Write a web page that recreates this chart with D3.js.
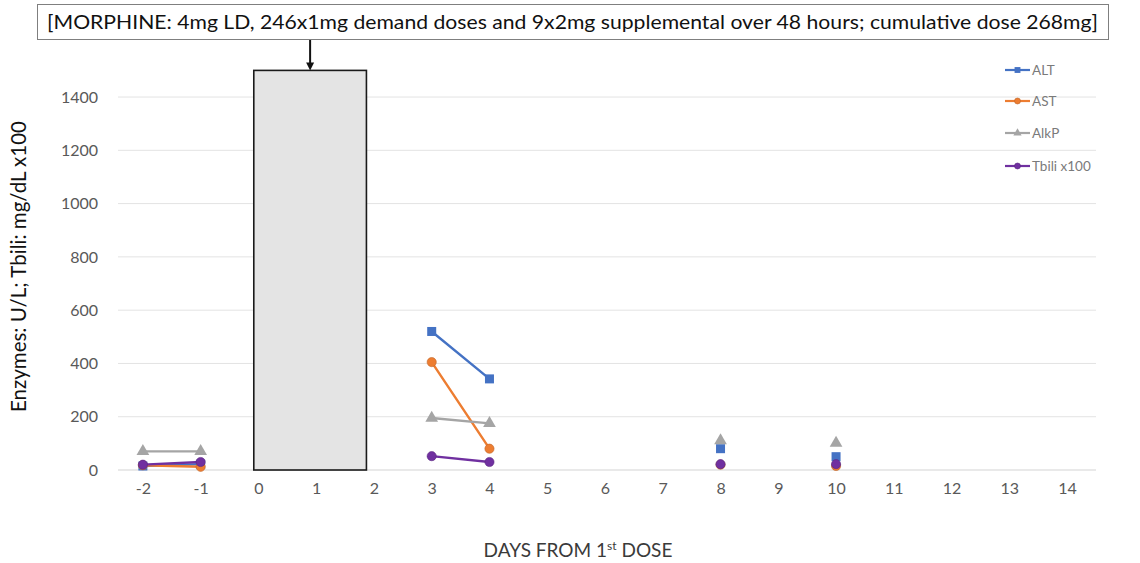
<!DOCTYPE html>
<html>
<head>
<meta charset="utf-8">
<script src="https://cdn.jsdelivr.net/npm/d3@7"></script>
<style>
  html, body { margin: 0; padding: 0; background: #fff; }
  svg { display: block; font-family: Lato, "Open Sans", sans-serif; }
</style>
</head>
<body>
<svg id="chart" width="1140" height="563"></svg>
<script>
// Days from first dose (x categories) and lab values; null = not measured
const days = [-2, -1, 0, 1, 2, 3, 4, 5, 6, 7, 8, 9, 10, 11, 12, 13, 14];
const alt   = [15, 22, null, null, null, 520, 342, null, null, null, 80, null, 50, null, null, null, null];
const ast   = [18, 12, null, null, null, 405, 80, null, null, null, 20, null, 15, null, null, null, null];
const alkp  = [70, 70, null, null, null, 195, 175, null, null, null, 110, null, 101, null, null, null, null];
const tbili = [20, 30, null, null, null, 52, 30, null, null, null, 22, null, 22, null, null, null, null];
const seriesNames = ["ALT", "AST", "AlkP", "Tbili x100"];
const seriesColors = ["#4472C4", "#ED7D31", "#A5A5A5", "#7030A0"];
const seriesMarkers = ["square", "circle", "triangle", "circle"];
const yTicks = [0, 200, 400, 600, 800, 1000, 1200, 1400];
// Morphine infusion window (days) and bar height
const doseWindow = [-0.08, 1.87];
const doseHeight = 1500;
const doseNote = "[MORPHINE: 4mg LD, 246x1mg demand doses and 9x2mg supplemental over 48 hours; cumulative dose 268mg]";

const svg = d3.select("#chart");
const margin = { left: 114, right: 1096, top: 70.4, bottom: 470 };

const x = d3.scaleLinear().domain([-2.5, 14.5]).range([margin.left, margin.right]);
const y = d3.scaleLinear().domain([0, 1500]).range([margin.bottom, margin.top]);

// gridlines
svg.append("g")
  .selectAll("line")
  .data(yTicks.filter(d => d > 0))
  .join("line")
  .attr("x1", margin.left + 4).attr("x2", margin.right)
  .attr("y1", d => y(d)).attr("y2", d => y(d))
  .attr("stroke", "#e3e3e3").attr("stroke-width", 1);

// baseline
svg.append("line")
  .attr("x1", margin.left + 4).attr("x2", margin.right)
  .attr("y1", y(0)).attr("y2", y(0))
  .attr("stroke", "#d4d4d4").attr("stroke-width", 1.2);

// y tick labels
const yAxis = d3.axisLeft(y).tickValues(yTicks).tickFormat(d => String(d)).tickSize(0).tickPadding(0);
const gy = svg.append("g").attr("transform", "translate(98,0)").call(yAxis);
gy.select(".domain").remove();
gy.selectAll("text")
  .attr("fill", "#595959")
  .attr("font-size", 16)
  .attr("font-family", "Lato, sans-serif");

// x tick labels
const xAxis = d3.axisBottom(x).tickValues(days).tickFormat(d => String(d)).tickSize(0).tickPadding(0);
const gx = svg.append("g").attr("transform", `translate(0,${y(0) + 19})`).call(xAxis);
gx.select(".domain").remove();
gx.selectAll("text")
  .attr("fill", "#595959")
  .attr("font-size", 16)
  .attr("font-family", "Lato, sans-serif")
  .attr("dy", "0.32em");

// dose bar
svg.append("rect")
  .attr("x", x(doseWindow[0]))
  .attr("y", y(doseHeight))
  .attr("width", x(doseWindow[1]) - x(doseWindow[0]))
  .attr("height", y(0) - y(doseHeight))
  .attr("fill", "#e4e4e4")
  .attr("stroke", "#1a1a1a")
  .attr("stroke-width", 1.6);

// annotation box
const note = svg.append("g");
note.append("rect")
  .attr("x", 37.5).attr("y", 4.5).attr("width", 1071).attr("height", 35)
  .attr("fill", "#fff").attr("stroke", "#7f7f7f").attr("stroke-width", 1);
note.append("text")
  .attr("x", 47).attr("y", 28.5)
  .attr("font-size", 19)
  .attr("fill", "#111")
  .attr("textLength", 1051)
  .attr("lengthAdjust", "spacingAndGlyphs")
  .text(doseNote);

// arrow from box to bar
const arrowX = x((doseWindow[0] + doseWindow[1]) / 2);
svg.append("line")
  .attr("x1", arrowX).attr("x2", arrowX)
  .attr("y1", 40).attr("y2", y(doseHeight) - 6)
  .attr("stroke", "#111").attr("stroke-width", 2);
svg.append("path")
  .attr("d", `M${arrowX - 4},${y(doseHeight) - 8} L${arrowX + 4},${y(doseHeight) - 8} L${arrowX},${y(doseHeight)} Z`)
  .attr("fill", "#111");

// series
const allSeries = [alt, ast, alkp, tbili].map((vals, i) => ({
  name: seriesNames[i],
  color: seriesColors[i],
  marker: seriesMarkers[i],
  points: days.map((d, j) => ({ day: d, value: vals[j] }))
}));

const line = d3.line()
  .defined(p => p.value !== null)
  .x(p => x(p.day))
  .y(p => y(p.value));

function drawMarker(g, type, color, cx, cy, scale = 1) {
  if (type === "square") {
    const s = 9 * scale;
    g.append("rect").attr("x", cx - s / 2).attr("y", cy - s / 2).attr("width", s).attr("height", s).attr("fill", color);
  } else if (type === "circle") {
    g.append("circle").attr("cx", cx).attr("cy", cy).attr("r", 4.6 * scale).attr("fill", color)
      .attr("stroke", d3.color(color).darker(0.6)).attr("stroke-width", 0.6);
  } else {
    const sym = d3.symbol().type(d3.symbolTriangle).size(70 * scale * scale);
    g.append("path").attr("d", sym()).attr("transform", `translate(${cx},${cy})`).attr("fill", color);
  }
}

allSeries.forEach(s => {
  const g = svg.append("g");
  g.append("path")
    .datum(s.points)
    .attr("d", line)
    .attr("fill", "none")
    .attr("stroke", s.color)
    .attr("stroke-width", 2.4);
  s.points.filter(p => p.value !== null).forEach(p => {
    drawMarker(g, s.marker, s.color, x(p.day), y(p.value));
  });
});

// legend
const legend = svg.append("g");
allSeries.forEach((s, i) => {
  const ly = [70, 101, 133, 166][i];
  legend.append("line")
    .attr("x1", 1005).attr("x2", 1030).attr("y1", ly).attr("y2", ly)
    .attr("stroke", s.color).attr("stroke-width", 2.2);
  drawMarker(legend, s.marker, s.color, 1017.5, ly, 0.65);
  legend.append("text")
    .attr("x", 1032).attr("y", ly).attr("dy", "0.35em")
    .attr("font-size", 13.5)
    .attr("fill", "#7a7a7a")
    .text(s.name);
});

// axis titles
svg.append("text")
  .attr("transform", `translate(26,${(y(0) + y(1400)) / 2 - 17}) rotate(-90)`)
  .attr("text-anchor", "middle")
  .attr("font-size", 20.5)
  .attr("fill", "#111")
  .text("Enzymes: U/L; Tbili: mg/dL x100");

const xt = svg.append("text")
  .attr("x", 578).attr("y", 557)
  .attr("text-anchor", "middle")
  .attr("font-size", 19)
  .attr("fill", "#3a3a3a");
xt.append("tspan").text("DAYS FROM 1");
xt.append("tspan").attr("font-size", 12).attr("dy", -7).text("st");
xt.append("tspan").attr("dy", 7).text(" DOSE");
</script>
</body>
</html>
